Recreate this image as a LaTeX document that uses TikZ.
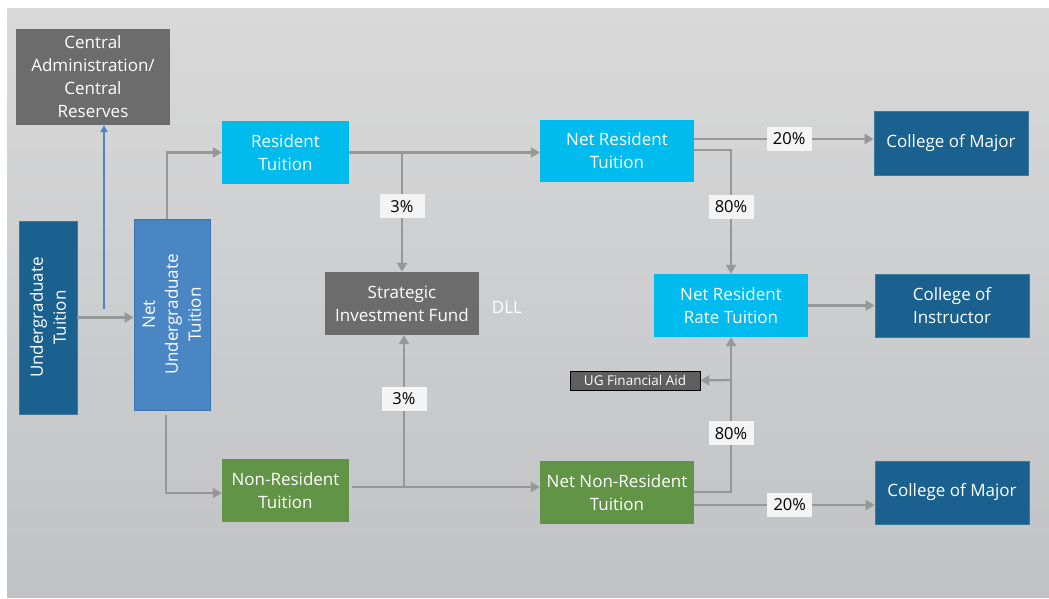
\documentclass[tikz,border=0pt]{standalone}
\usepackage{fontspec}
\setmainfont{Open Sans}
\usetikzlibrary{arrows.meta,calc}
\definecolor{cyanbox}{HTML}{00BBEE}
\definecolor{greenbox}{HTML}{629447}
\definecolor{darkblue}{HTML}{1A6190}
\definecolor{midblue}{HTML}{4A85C4}
\definecolor{midblueborder}{HTML}{3B73B0}
\definecolor{greybox}{HTML}{6C6C6C}
\definecolor{linegrey}{HTML}{979797}
\definecolor{labelfill}{HTML}{F4F4F4}
\definecolor{bgtop}{HTML}{D9D9D9}
\definecolor{bgmid}{HTML}{DBDBDB}
\definecolor{bgbot}{HTML}{C0C2C5}
\begin{document}
\begin{tikzpicture}[x=1pt,y=-1pt,
  base/.style={inner sep=2pt, align=center, text=white,
    font=\fontsize{17}{23}\selectfont},
  cyanstyle/.style={base, fill=cyanbox},
  greenstyle/.style={base, fill=greenbox},
  dbluestyle/.style={base, fill=darkblue, draw=darkblue!85!white, line width=0.8pt},
  greystyle/.style={base, fill=greybox},
  pct/.style={fill=labelfill, text=black, inner sep=0pt, minimum width=45, minimum height=24,
    font=\fontsize{16.5}{19}\selectfont},
  arr/.style={draw=linegrey, line width=2.2pt,
    -{Triangle[length=9pt,width=10pt]}},
  plain/.style={draw=linegrey, line width=2.2pt},
]
\useasboundingbox (0,0) rectangle (1049,599);
\fill[white] (0,0) rectangle (1049,599);
\shade[top color=bgtop, middle color=bgmid, bottom color=bgbot] (7,9) rectangle (1049,597);

% nodes
\node[greystyle, minimum width=154, minimum height=96] (cadm) at (93,77)
  {Central\\Administration/\\Central\\Reserves};
\node[dbluestyle, rotate=90, minimum width=193, minimum height=58] (ugt) at (48,317.5)
  {Undergraduate\\Tuition};
\node[base, fill=midblue, draw=midblueborder, line width=0.8pt, rotate=90,
  minimum width=191, minimum height=76] (nug) at (172,314.5)
  {Net\\Undergraduate\\Tuition};
\node[cyanstyle, minimum width=127, minimum height=63] (res) at (285.5,152.5) {Resident\\Tuition};
\node[cyanstyle, minimum width=154, minimum height=62] (nres) at (617,151) {Net Resident\\Tuition};
\node[greystyle, minimum width=154, minimum height=63] (sif) at (402,303.5) {Strategic\\Investment Fund};
\node[text=white, font=\fontsize{17}{23}\selectfont] (dll) at (507,307) {DLL};
\node[cyanstyle, minimum width=154, minimum height=63] (nrr) at (731,305.5) {Net Resident\\Rate Tuition};
\node[fill=greybox!88!black, draw=black, line width=0.8pt, text=white, inner sep=0pt,
  minimum width=130, minimum height=19, font=\fontsize{13.5}{15}\selectfont] (ugfa) at (635,380.5) {UG Financial Aid};
\node[greenstyle, minimum width=127, minimum height=63] (nonres) at (285.5,490.5) {Non-Resident\\Tuition};
\node[greenstyle, minimum width=154, minimum height=63] (nnres) at (617,492.5) {Net Non-Resident\\Tuition};
\node[dbluestyle, minimum width=154, minimum height=64] (com1) at (951,143) {College of Major};
\node[dbluestyle, minimum width=154, minimum height=63] (coi) at (952,305.5) {College of\\Instructor};
\node[dbluestyle, minimum width=154, minimum height=63] (com2) at (952,492.5) {College of Major};

% connectors
\draw[arr] (ugt.south) -- (ugt.south -| nug.north);
\coordinate (bj) at (104,309);
\draw[draw=midblue, line width=2pt, -{Triangle[length=7pt,width=7pt]}] (bj) -- (bj |- cadm.south);

\coordinate (nugtop) at (167,219);
\draw[arr] (nugtop) |- (res.west);
\coordinate (nugbot) at (166,415);
\draw[arr] (nugbot) |- ([yshift=-2.5]nonres.west);

\draw[arr] (res.east) -- (res.east -| nres.west);
\coordinate (b1) at (402,152.5);
\draw[arr] (b1) -- node[pct, pos=0.45] {3\%} (sif.north);

\coordinate (nr0) at (352,487);
\draw[arr] (nr0) -- (nr0 -| nnres.west);
\coordinate (b2) at (404,487);
\draw[arr] (b2) -- node[pct, pos=0.58] {3\%} (b2 |- sif.south);

\coordinate (nres20) at (694,139);
\draw[arr] (nres20) -- node[pct, pos=0.53] {20\%} (nres20 -| com1.west);
\coordinate (nres80) at (694,150);
\draw[arr] (nres80) -| node[pct, pos=0.73] {80\%} (nrr.north);

\draw[arr] (nrr.east) -- (nrr.east -| coi.west);

\coordinate (nn80) at (694,492);
\draw[arr] (nn80) -| node[pct, pos=0.69] {80\%} (nrr.south);
\coordinate (b3) at (731,380);
\draw[arr] (b3) -- (ugfa.east);

\coordinate (nn20) at (694,505);
\draw[arr] (nn20) -- node[pct, pos=0.53] {20\%} (nn20 -| com2.west);
\end{tikzpicture}
\end{document}
